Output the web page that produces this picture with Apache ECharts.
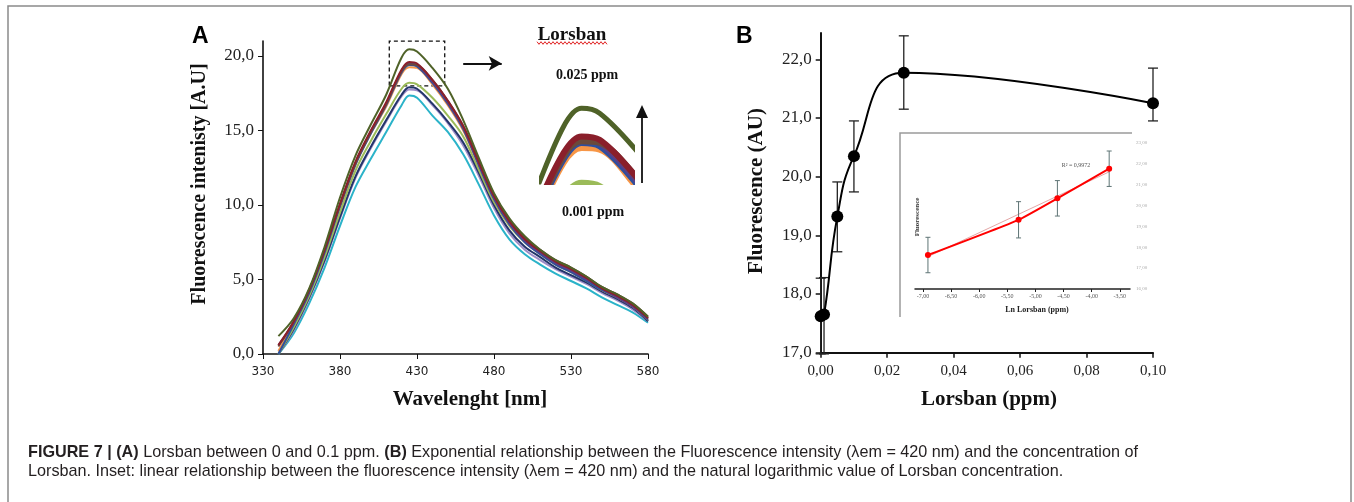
<!DOCTYPE html>
<html><head><meta charset="utf-8">
<script src="https://cdn.jsdelivr.net/npm/echarts@6/dist/echarts.min.js"></script>
<style>html,body{margin:0;padding:0;background:#fff}#c{width:1354px;height:502px}</style>
</head><body><div id="c"></div>
<script>
// ---------- Panel A data (emission spectra) ----------
const wavelengths = [340,350,360,370,380,390,400,410,420,425,430,440,450,460,470,480,490,500,510,520,530,540,550,560,570,580];
const specCyan     = [0.0,1.4,3.4,5.8,8.6,11.2,13.1,14.9,16.7,17.35,17.2,16.0,14.9,13.4,11.4,9.3,7.7,6.7,6.0,5.4,4.9,4.4,3.8,3.3,2.8,2.1];
const specLavender = [0.0,1.6,3.7,6.2,9.1,11.8,13.8,15.6,17.3,17.75,17.7,16.7,15.5,14.0,12.0,9.8,8.1,7.0,6.3,5.7,5.2,4.7,4.1,3.6,3.0,2.2];
const specNavy     = [0.0,1.7,3.8,6.3,9.2,11.9,13.9,15.7,17.4,17.9,17.8,16.8,15.6,14.2,12.2,10.0,8.3,7.2,6.5,5.8,5.3,4.8,4.2,3.7,3.1,2.2];
const specLtGreen  = [0.0,1.8,3.9,6.5,9.5,12.3,14.3,16.1,17.8,18.2,18.1,17.2,16.0,14.6,12.4,10.2,8.6,7.5,6.7,6.0,5.5,4.9,4.3,3.8,3.2,2.3];
const specOrange   = [0.2,2.1,4.2,6.9,9.9,12.7,14.8,16.6,18.8,19.25,19.2,18.1,16.7,15.0,12.7,10.4,8.7,7.6,6.8,6.1,5.6,5.0,4.3,3.8,3.2,2.3];
const specBlue     = [0.0,2.0,4.1,6.8,9.9,12.7,14.8,16.7,18.9,19.4,19.3,18.2,16.8,15.1,12.7,10.4,8.7,7.5,6.7,6.0,5.5,4.9,4.3,3.8,3.2,2.3];
const specPurple   = [0.6,2.1,4.2,6.9,10.0,12.8,14.9,16.8,19.0,19.5,19.4,18.3,16.9,15.2,12.8,10.5,8.8,7.6,6.8,6.1,5.6,5.0,4.4,3.8,3.2,2.4];
const specBrown    = [0.5,2.2,4.3,7.0,10.0,12.8,14.9,16.8,19.0,19.45,19.4,18.4,17.0,15.3,13.0,10.7,9.0,7.8,7.0,6.3,5.8,5.2,4.5,4.0,3.4,2.5];
const specMaroon   = [0.6,2.2,4.3,7.0,10.1,12.9,15.0,16.9,19.1,19.6,19.5,18.4,17.0,15.3,12.9,10.6,8.9,7.7,6.9,6.2,5.7,5.1,4.4,3.9,3.3,2.4];
const specGreen    = [1.2,2.4,4.4,7.2,10.5,13.3,15.4,17.4,19.9,20.45,20.3,19.2,17.8,15.7,13.2,10.8,9.1,7.9,7.0,6.3,5.8,5.2,4.5,4.0,3.4,2.5];
const aXTicks = [330,380,430,480,530,580];
const aYTicks = [0,5,10,15,20];
const zoomBoxWl = [412,448];
const zoomBoxI = [18,21];

// ---------- Panel B data ----------
const lorsbanPpm = [0,0.001,0.005,0.010,0.025,0.100];
const fluorMean  = [17.62,17.65,19.32,20.35,21.77,21.25];
const fluorHigh  = [18.27,18.28,19.91,20.95,22.40,21.85];
const fluorLow   = [16.98,16.98,18.72,19.74,21.15,20.95];
const bXTicks = [0,0.02,0.04,0.06,0.08,0.10];
const bYTicks = [17,18,19,20,21,22];
// inset of B (ln concentration)
const lnLorsban  = [-6.91,-5.30,-4.61,-3.69];
const insetFluor = [17.63,19.32,20.35,21.77];
const insetErr   = [0.85,0.87,0.85,0.85];
const trendLn    = [-6.91,-3.69];
const trendFluor = [17.55,21.62];
const insetXTicks = [-7,-6.5,-6,-5.5,-5,-4.5,-4,-3.5];
const insetYTicks = [16,17,18,19,20,21,22,23];

// ---------- styles ----------
const spectraValues = [specCyan,specLavender,specNavy,specLtGreen,specOrange,specBlue,specPurple,specBrown,specMaroon,specGreen];
const spectraColors = ['#2BB3C9','#9C8CC8','#22356A','#9BBB59','#F79646','#2E4F9E','#5B3F86','#6B4A3A','#8A1F2B','#4F6228'];
const SERIF = '"Liberation Serif", "DejaVu Serif", serif';
const SANS = '"Liberation Sans", Arial, sans-serif';

const chart = echarts.init(document.getElementById('c'), null, {renderer:'canvas'});
const comma = (v, d) => v.toFixed(d).replace('.', ',');

const series = [];
spectraValues.forEach((vals, i) => {
  series.push({
    type:'line', xAxisIndex:0, yAxisIndex:0, smooth:0.35, symbol:'none',
    data: wavelengths.map((w, k) => [w, vals[k]]),
    lineStyle:{color:spectraColors[i], width:2}, z: 3 + i
  });
});
// dashed zoom box + arrow
series[series.length-1].markArea = {
  silent:true,
  itemStyle:{color:'rgba(0,0,0,0)', borderColor:'#111', borderWidth:1.3, borderType:[4,3]},
  data:[[{coord:[zoomBoxWl[0], zoomBoxI[0]]},{coord:[zoomBoxWl[1], zoomBoxI[1]]}]]
};
series[series.length-1].markLine = {
  silent:true, symbol:['none','arrow'], symbolSize:[11,13],
  lineStyle:{color:'#111', width:2, type:'solid'}, label:{show:false},
  data:[[{coord:[460,19.5]},{coord:[485,19.5]}]]
};
// zoomed arcs (inset A)
spectraValues.forEach((vals, i) => {
  series.push({
    type:'line', xAxisIndex:1, yAxisIndex:1, smooth:0.35, symbol:'none', clip:true,
    data: wavelengths.map((w, k) => [w, vals[k]]),
    lineStyle:{color:spectraColors[i], width:i===9?5:6}, z: 3 + i
  });
});

// Panel B main curve
series.push({
  type:'line', xAxisIndex:2, yAxisIndex:2, smooth:0.45,
  data: lorsbanPpm.map((x, k) => [x, fluorMean[k]]),
  symbol:'circle', symbolSize:12, itemStyle:{color:'#000'},
  lineStyle:{color:'#000', width:2}, z:5
});
function errBar(color, cap, lw){
  return function(params, api){
    const x = api.value(0), lo = api.value(1), hi = api.value(2);
    const a = api.coord([x, hi]), b = api.coord([x, lo]);
    const st = {stroke:color, lineWidth:lw};
    return {type:'group', children:[
      {type:'line', shape:{x1:a[0],y1:a[1],x2:b[0],y2:b[1]}, style:st},
      {type:'line', shape:{x1:a[0]-cap,y1:a[1],x2:a[0]+cap,y2:a[1]}, style:st},
      {type:'line', shape:{x1:b[0]-cap,y1:b[1],x2:b[0]+cap,y2:b[1]}, style:st}
    ]};
  };
}
series.push({
  type:'custom', xAxisIndex:2, yAxisIndex:2, z:4,
  renderItem: errBar('#222', 5, 1.3),
  data: lorsbanPpm.map((x, k) => [x, fluorLow[k], fluorHigh[k]])
});
// Inset B
series.push({
  type:'line', xAxisIndex:3, yAxisIndex:3, symbol:'none',
  data: trendLn.map((x, k) => [x, trendFluor[k]]),
  lineStyle:{color:'#E3A7A7', width:1}, z:3
});
series.push({
  type:'custom', xAxisIndex:3, yAxisIndex:3, z:4,
  renderItem: errBar('#5E7475', 2.5, 1),
  data: lnLorsban.map((x, k) => [x, insetFluor[k]-insetErr[k], insetFluor[k]+insetErr[k]])
});
series.push({
  type:'line', xAxisIndex:3, yAxisIndex:3, smooth:0.15,
  data: lnLorsban.map((x, k) => [x, insetFluor[k]]),
  symbol:'circle', symbolSize:6, itemStyle:{color:'#FF0000'},
  lineStyle:{color:'#FF0000', width:2}, z:5
});

const axisBlack = {lineStyle:{color:'#111', width:1.6}};
const hidden = {show:false};

// wavy underline for "Lorsban"
const wave = [];
for (let k = 0, x = 537; x <= 608; x += 2, k++) wave.push([x, 43 + (k % 2 === 0 ? -1.3 : 1.3)]);

const option = {
  animation:false,
  backgroundColor:'#fff',
  grid:[
    {left:263, right:706, top:41.1, bottom:148},
    {left:542, right:722, top:105, bottom:320},
    {left:820.7, right:201, top:32.9, bottom:149.3},
    {left:915, right:224, top:141, bottom:213}
  ],
  xAxis:[
    {gridIndex:0, type:'value', min:330, max:580, interval:50,
     axisLine:axisBlack, axisTick:{show:true, length:5, lineStyle:{color:'#111'}, customValues:aXTicks},
     axisLabel:{customValues:aXTicks, fontFamily:'"DejaVu Sans", sans-serif', fontSize:12, color:'#222', margin:12},
     splitLine:hidden},
    {gridIndex:1, type:'value', min:414, max:439, show:false},
    {gridIndex:2, type:'value', min:0, max:0.1,
     axisLine:{lineStyle:{color:'#111', width:2}}, axisTick:{show:true, length:5, lineStyle:{color:'#111', width:1.5}, customValues:bXTicks},
     axisLabel:{customValues:bXTicks, formatter:v=>comma(v,2), fontFamily:SERIF, fontSize:15, color:'#222', margin:11},
     splitLine:hidden},
    {gridIndex:3, type:'value', min:-7.14, max:-3.32,
     axisLine:{lineStyle:{color:'#222', width:1.5}}, axisTick:{show:true, length:3, lineStyle:{color:'#222'}, customValues:insetXTicks},
     axisLabel:{customValues:insetXTicks, formatter:v=>comma(v,2), fontFamily:SERIF, fontSize:6, color:'#555', margin:4},
     splitLine:hidden}
  ],
  yAxis:[
    {gridIndex:0, type:'value', min:0, max:21, interval:5,
     axisLine:{show:true, lineStyle:{color:'#111', width:1.6}}, axisTick:{show:true, length:5, lineStyle:{color:'#111'}, customValues:aYTicks},
     axisLabel:{customValues:aYTicks, formatter:v=>comma(v,1), fontFamily:SERIF, fontSize:17, color:'#222', margin:9},
     splitLine:hidden},
    {gridIndex:1, type:'value', min:18.22, max:20.55, show:false},
    {gridIndex:2, type:'value', min:17, max:22.45, interval:1,
     axisLine:{show:true, lineStyle:{color:'#111', width:2}}, axisTick:{show:true, length:5, lineStyle:{color:'#111', width:1.5}, customValues:bYTicks},
     axisLabel:{customValues:bYTicks, formatter:v=>comma(v,1), fontFamily:SERIF, fontSize:17, color:'#222', margin:9},
     splitLine:hidden},
    {gridIndex:3, type:'value', min:16, max:23.1, position:'right',
     axisLine:{show:false}, axisTick:{show:false},
     axisLabel:{customValues:insetYTicks, formatter:v=>comma(v,2), fontFamily:SERIF, fontSize:5, color:'#aaa', margin:6},
     splitLine:hidden}
  ],
  series: series,
  graphic:[
    {type:'rect', shape:{x:8, y:6, width:1343, height:520}, style:{fill:'none', stroke:'#8a8a8a', lineWidth:1.5}, silent:true, z:-10},
    // panel letters
    {type:'text', x:192, y:25, style:{text:'A', font:'bold 23px '+SANS, fill:'#000'}},
    {type:'text', x:736, y:25, style:{text:'B', font:'bold 23px '+SANS, fill:'#000'}},
    // axis titles A
    {type:'text', x:200, y:184, rotation:Math.PI/2, style:{text:'Fluorescence intenisty [A.U]', font:'bold 20px '+SERIF, fill:'#111', align:'center', verticalAlign:'middle', textAlign:'center', textVerticalAlign:'middle'}},
    {type:'text', x:470, y:400, style:{text:'Wavelenght [nm]', font:'bold 21px '+SERIF, fill:'#111', align:'center', verticalAlign:'middle', textAlign:'center', textVerticalAlign:'middle'}},
    // axis titles B
    {type:'text', x:757, y:191, rotation:Math.PI/2, style:{text:'Fluorescence (AU)', font:'bold 21px '+SERIF, fill:'#111', align:'center', verticalAlign:'middle', textAlign:'center', textVerticalAlign:'middle'}},
    {type:'text', x:989, y:400, style:{text:'Lorsban (ppm)', font:'bold 21px '+SERIF, fill:'#111', align:'center', verticalAlign:'middle', textAlign:'center', textVerticalAlign:'middle'}},
    // inset A annotations
    {type:'text', x:572, y:35, style:{text:'Lorsban', font:'bold 19px '+SERIF, fill:'#111', align:'center', verticalAlign:'middle', textAlign:'center', textVerticalAlign:'middle'}},
    {type:'polyline', shape:{points:wave}, style:{stroke:'#E02020', lineWidth:1, fill:'none'}},
    {type:'text', x:587, y:75, style:{text:'0.025 ppm', font:'bold 14px '+SERIF, fill:'#111', align:'center', verticalAlign:'middle', textAlign:'center', textVerticalAlign:'middle'}},
    {type:'text', x:593, y:212, style:{text:'0.001 ppm', font:'bold 14px '+SERIF, fill:'#111', align:'center', verticalAlign:'middle', textAlign:'center', textVerticalAlign:'middle'}},
    {type:'line', shape:{x1:642, y1:183, x2:642, y2:116}, style:{stroke:'#111', lineWidth:1.8}},
    {type:'polygon', shape:{points:[[636,118],[648,118],[642,105]]}, style:{fill:'#111'}},
    // inset B frame + texts
    {type:'polyline', shape:{points:[[900,317],[900,133],[1132,133]]}, style:{stroke:'#9a9a9a', lineWidth:1.5, fill:'none'}},
    {type:'text', x:917, y:217, rotation:Math.PI/2, style:{text:'Fluorescence', font:'bold 7px '+SERIF, fill:'#333', align:'center', verticalAlign:'middle', textAlign:'center', textVerticalAlign:'middle'}},
    {type:'text', x:1037, y:310, style:{text:'Ln Lorsban (ppm)', font:'bold 8px '+SERIF, fill:'#222', align:'center', verticalAlign:'middle', textAlign:'center', textVerticalAlign:'middle'}},
    {type:'text', x:1076, y:165, style:{text:'R² = 0,9972', font:'6px '+SERIF, fill:'#555', align:'center', verticalAlign:'middle', textAlign:'center', textVerticalAlign:'middle'}},
    // caption
    {type:'text', x:28, y:453, style:{
      text:'{b|FIGURE 7 | (A)} Lorsban between 0 and 0.1 ppm. {b|(B)} Exponential relationship between the Fluorescence intensity (λem = 420 nm) and the concentration of',
      font:'16.2px '+SANS, fill:'#231f20', verticalAlign:'middle', textVerticalAlign:'middle',
      rich:{b:{font:'bold 16.2px '+SANS, fill:'#231f20'}}}},
    {type:'text', x:28, y:472, style:{
      text:'Lorsban. Inset: linear relationship between the fluorescence intensity (λem = 420 nm) and the natural logarithmic value of Lorsban concentration.',
      font:'16.2px '+SANS, fill:'#231f20', verticalAlign:'middle', textVerticalAlign:'middle'}}
  ]
};
chart.setOption(option);
</script></body></html>
